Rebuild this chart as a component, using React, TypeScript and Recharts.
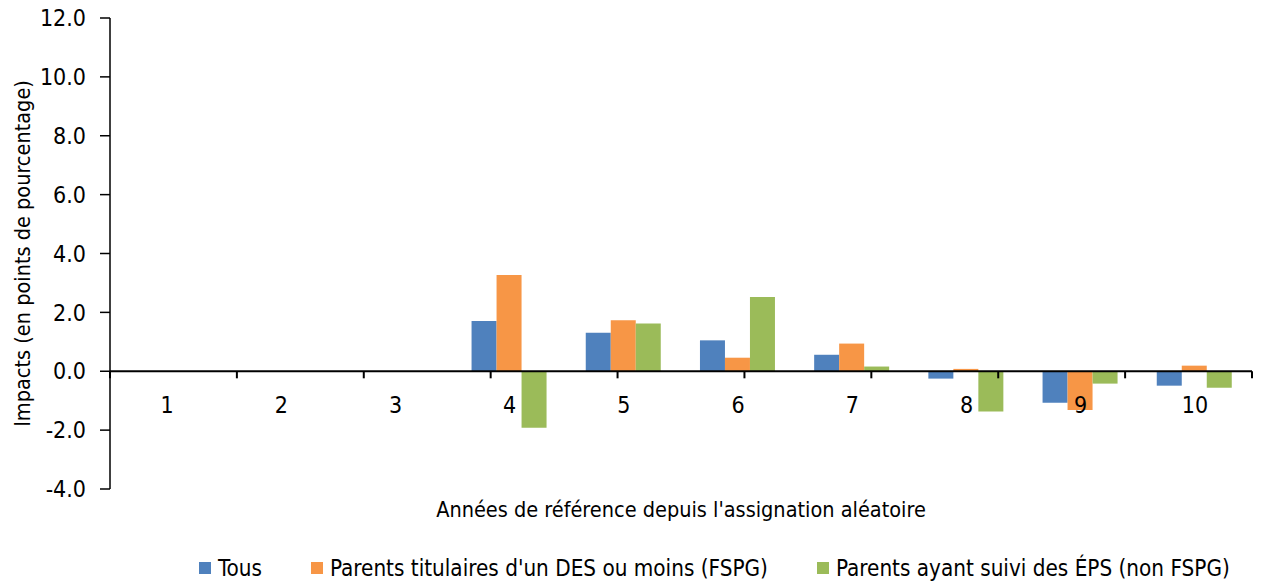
import React from 'react';
import { BarChart, Bar, XAxis, YAxis, ReferenceLine, ReferenceDot, Legend } from 'recharts';

const years = ['1', '2', '3', '4', '5', '6', '7', '8', '9', '10'];
const tous = [null, null, null, 1.71, 1.31, 1.05, 0.56, -0.25, -1.07, -0.49];
const fspg = [null, null, null, 3.27, 1.73, 0.46, 0.94, 0.08, -1.32, 0.19];
const nonFspg = [null, null, null, -1.92, 1.62, 2.52, 0.16, -1.37, -0.42, -0.56];
const yTicks = [-4, -2, 0, 2, 4, 6, 8, 10, 12];
const bandEdges = [0, 1, 2, 3, 4, 5, 6, 7, 8, 9, 10];

const series = [
  { key: 'tous', name: 'Tous', color: '#4F81BD' },
  { key: 'fspg', name: "Parents titulaires d'un DES ou moins (FSPG)", color: '#F79646' },
  { key: 'nonFspg', name: 'Parents ayant suivi des ÉPS (non FSPG)', color: '#9BBB59' },
];

const data = years.map((y, i) => ({
  year: y,
  tous: tous[i],
  fspg: fspg[i],
  nonFspg: nonFspg[i],
}));

const FONT = '"Liberation Sans Narrow", "DejaVu Sans Condensed", "Liberation Sans", sans-serif';
const FS = 23; // tick numbers
const FS_TEXT = 21.5; // axis titles
const FS_LEGEND = 22.3;

const LegendContent = () => (
  <div style={{ display: 'flex', alignItems: 'center', paddingLeft: 199, height: 30, fontFamily: FONT, fontSize: FS_LEGEND, color: '#000' }}>
    {series.map((s, i) => (
      <div key={s.key} style={{ display: 'flex', alignItems: 'center', marginRight: i < series.length - 1 ? 49 : 0 }}>
        <span style={{ width: 12, height: 12, background: s.color, display: 'inline-block', marginRight: 7 }} />
        <span>{s.name}</span>
      </div>
    ))}
  </div>
);

const YLabel = ({ viewBox }: any) => {
  const cy = viewBox.y + viewBox.height / 2;
  const cx = 22;
  return (
    <text
      x={cx}
      y={cy}
      transform={`rotate(-90, ${cx}, ${cy})`}
      textAnchor="middle"
      dominantBaseline="central"
      fontFamily={FONT}
      fontSize={FS_TEXT}
      fill="#000"
    >
      Impacts (en points de pourcentage)
    </text>
  );
};

export default function App() {
  return (
    <div style={{ position: 'absolute', left: 0, top: 0, background: '#fff' }}>
      <BarChart
        width={1262}
        height={586}
        data={data}
        margin={{ top: 18, right: 10, left: 0, bottom: 27 }}
        barCategoryGap="16.6%"
        barGap={0}
      >
        <XAxis
          dataKey="year"
          height={40}
          axisLine={false}
          tickLine={false}
          tick={false}
          label={{
            value: "Années de référence depuis l'assignation aléatoire",
            position: 'insideBottom',
            offset: 12,
            fill: '#000',
            fontSize: FS_TEXT,
            fontFamily: FONT,
          }}
        />
        <XAxis xAxisId="edge" type="number" domain={[0, 10]} hide />
        <YAxis
          width={110}
          domain={[-4, 12]}
          ticks={yTicks}
          interval={0}
          tickFormatter={(v: number) => v.toFixed(1)}
          tick={{ fill: '#000', fontSize: FS, fontFamily: FONT }}
          tickSize={10}
          tickMargin={14}
          tickLine={{ stroke: '#000', strokeWidth: 1.5 }}
          axisLine={{ stroke: '#000', strokeWidth: 1.5 }}
          label={<YLabel />}
        />
        <Legend content={<LegendContent />} wrapperStyle={{ top: 553, bottom: 'auto', left: 0, width: 1262, height: 30 }} />
        {series.map(s => (
          <Bar key={s.key} dataKey={s.key} name={s.name} fill={s.color} isAnimationActive={false} />
        ))}
        <ReferenceLine y={0} stroke="#000" strokeWidth={2} />
        {bandEdges.map(e => (
          <ReferenceLine
            key={`edge-${e}`}
            xAxisId="edge"
            segment={[{ x: e, y: 0 }, { x: e, y: -0.24 }]}
            stroke="#000"
            strokeWidth={2}
          />
        ))}
        {years.map(y => (
          <ReferenceDot
            key={`lbl-${y}`}
            x={y}
            y={0}
            r={0}
            fill="none"
            stroke="none"
            label={{ value: y, position: 'bottom', offset: 25, fill: '#000', fontSize: FS, fontFamily: FONT }}
          />
        ))}
      </BarChart>
    </div>
  );
}
